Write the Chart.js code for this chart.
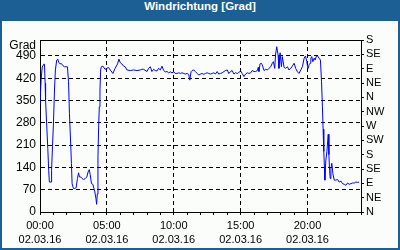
<!DOCTYPE html>
<html>
<head>
<meta charset="utf-8">
<script src="https://cdn.jsdelivr.net/npm/chart.js@4.4.1/dist/chart.umd.min.js"></script>
<style>
  html, body { margin: 0; padding: 0; background: #ffffff; }
  #frame {
    position: relative;
    width: 400px;
    height: 250px;
    background: #1c5f94;
    overflow: hidden;
  }
  #title {
    position: absolute;
    left: 0; top: 0;
    width: 400px;
    height: 21px;
    line-height: 21px;
    text-align: center;
    color: #ffffff;
    font: bold 11.5px "Liberation Sans", Arial, sans-serif;
  }
  #inner {
    position: absolute;
    left: 2px; top: 21px;
    width: 396px;
    height: 227px;
    background: #fafdfa;
  }
  canvas { display: block; }
</style>
</head>
<body>
<div id="frame">
  <div id="title">Windrichtung [Grad]</div>
  <div id="inner"><canvas id="chart" width="396" height="227"></canvas></div>
</div>
<script>
// minutes since 00:00 on 02.03.16
const times = [
  0, 5, 10, 17, 20, 23, 25, 30, 35, 39, 42, 50, 52, 56, 60, 65, 69, 75, 80, 84,
  90, 96, 102, 110, 117, 123, 128, 132, 137, 141, 144, 150, 156, 162, 168, 173, 177, 183, 189, 195,
  203, 210, 216, 221, 225, 231, 237, 242, 246, 251, 254, 257, 260, 263, 266, 269, 272, 275,
  282, 292, 300, 307, 315, 327, 337, 348, 354, 360, 367, 375, 382, 390, 405, 420, 435, 450, 457, 465,
  480, 487, 495, 502, 510, 517, 525, 532, 540, 547, 555, 562, 570, 577, 585, 592, 600, 607, 615, 622,
  630, 637, 645, 652, 660, 667, 672, 678, 682, 690, 697, 705, 712, 720, 727, 735, 742, 750, 757, 765,
  772, 780, 787, 795, 802, 810, 817, 825, 832, 840, 847, 855, 862, 870, 877, 885, 892, 900, 907, 915,
  922, 930, 937, 945, 952, 960, 967, 975, 979, 982, 987, 993, 997, 1005, 1012, 1020, 1027, 1035, 1042, 1047,
  1053, 1057, 1062, 1068, 1072, 1077, 1083, 1087, 1095, 1102, 1110, 1117, 1125, 1132, 1140, 1147, 1155, 1162, 1170, 1177,
  1185, 1191, 1197, 1200, 1203, 1207, 1212, 1215, 1219, 1224, 1230, 1234, 1239, 1245, 1252, 1258, 1263, 1267, 1270, 1273,
  1276, 1278, 1282, 1287, 1293, 1296, 1299, 1302, 1305, 1309, 1314, 1320, 1327, 1335, 1342, 1350, 1357, 1365, 1372, 1380,
  1387, 1395, 1402, 1410, 1417, 1425, 1432
];
// wind direction in degrees
const values = [
  340, 415, 455, 464, 464, 404, 351, 273, 199, 131, 94, 94, 131, 205, 273, 383, 446, 477, 480, 470,
  465, 466, 460, 456, 456, 456, 409, 310, 226, 152, 89, 74, 74, 76, 105, 123, 110, 110, 105, 102,
  105, 110, 126, 133, 118, 89, 87, 74, 63, 42, 24, 56, 173, 267, 330, 383, 446, 456,
  458, 448, 451, 454, 446, 435, 451, 465, 480, 469, 465, 458, 456, 446, 444, 446, 444, 446, 448, 448,
  441, 451, 456, 441, 448, 444, 443, 451, 446, 458, 444, 440, 441, 437, 440, 437, 440, 435, 435, 437,
  435, 437, 435, 433, 435, 432, 414, 441, 444, 446, 441, 435, 430, 433, 435, 432, 435, 437, 435, 433,
  435, 437, 433, 441, 433, 435, 437, 441, 444, 446, 435, 441, 444, 433, 437, 435, 438, 443, 435, 425,
  433, 437, 435, 437, 444, 441, 441, 444, 454, 441, 465, 467, 462, 444, 448, 446, 451, 456, 467, 472,
  451, 496, 519, 493, 451, 500, 456, 488, 454, 451, 456, 446, 451, 458, 467, 451, 440, 435, 446, 456,
  483, 490, 472, 456, 451, 462, 467, 483, 488, 472, 483, 477, 488, 490, 483, 477, 409, 330, 260, 190,
  140, 100, 160, 190, 244, 180, 130, 105, 135, 153, 120, 100, 100, 102, 94, 97, 89, 87, 84, 91,
  87, 89, 91, 91, 94, 93, 94
];

const leftTicks = [0, 70, 140, 210, 280, 350, 420, 490];
const compassTicks = [0, 45, 90, 135, 180, 225, 270, 315, 360, 405, 450, 495, 540];
const compassLabels = ['N', 'NE', 'E', 'SE', 'S', 'SW', 'W', 'NW', 'N', 'NE', 'E', 'SE', 'S'];
const hourTicks = [0, 60, 120, 180, 240, 300, 360, 420, 480, 540, 600, 660, 720, 780, 840, 900, 960, 1020, 1080, 1140, 1200, 1260, 1320, 1380, 1440];
const timeLabels = { 0: '00:00', 300: '05:00', 600: '10:00', 900: '15:00', 1200: '20:00' };
const dateLabel = '02.03.16';

const FONT = '"Liberation Sans", Arial, sans-serif';

// top edge of the box + "Grad" caption
const framePlugin = {
  id: 'framePlugin',
  afterDraw(chart) {
    const { ctx, chartArea } = chart;
    ctx.save();
    ctx.strokeStyle = '#000';
    ctx.lineWidth = 1;
    ctx.beginPath();
    const y = Math.round(chartArea.top) + 0.5;
    ctx.moveTo(chartArea.left, y);
    ctx.lineTo(chartArea.right, y);
    ctx.stroke();
    ctx.fillStyle = '#000';
    ctx.font = '12px ' + FONT;
    ctx.textAlign = 'right';
    ctx.textBaseline = 'middle';
    ctx.fillText('Grad', chartArea.left - 4, chartArea.top + 6);
    ctx.restore();
  }
};

new Chart(document.getElementById('chart'), {
  type: 'line',
  data: {
    datasets: [{
      data: times.map((t, i) => ({ x: t, y: values[i] })),
      borderColor: '#0000ff',
      borderWidth: 1,
      pointRadius: 0,
      tension: 0,
      fill: false
    }]
  },
  options: {
    responsive: false,
    animation: false,
    events: [],
    layout: { padding: { top: 19, left: 0, right: 0, bottom: 0 } },
    plugins: { legend: { display: false }, tooltip: { enabled: false } },
    scales: {
      x: {
        type: 'linear',
        min: 0,
        max: 1440,
        afterBuildTicks: (scale) => { scale.ticks = hourTicks.map(v => ({ value: v })); },
        afterFit: (scale) => { scale.height = 36; },
        grid: {
          color: (c) => (c.tick && c.tick.value % 300 === 0 && c.tick.value > 0 && c.tick.value < 1440) ? '#000' : 'rgba(0,0,0,0)',
          tickColor: '#000',
          tickLength: 3,
          lineWidth: 1
        },
        border: { display: true, color: '#000', dash: [4, 3] },
        ticks: {
          autoSkip: false,
          maxRotation: 0,
          padding: 3,
          color: '#000',
          font: { family: FONT, size: 11, lineHeight: 1.36 },
          callback: (v) => timeLabels[v] ? [timeLabels[v], dateLabel] : ''
        }
      },
      y: {
        position: 'left',
        min: 0,
        max: 540,
        afterBuildTicks: (scale) => { scale.ticks = leftTicks.map(v => ({ value: v })); },
        afterFit: (scale) => { scale.width = 38; },
        grid: { color: '#000', drawTicks: false, lineWidth: 1 },
        border: { display: true, color: '#000', dash: [4, 3] },
        ticks: { autoSkip: false, padding: 4, color: '#000', font: { family: FONT, size: 12 } }
      },
      y2: {
        position: 'right',
        min: 0,
        max: 540,
        afterBuildTicks: (scale) => { scale.ticks = compassTicks.map(v => ({ value: v })); },
        afterFit: (scale) => { scale.width = 37; },
        grid: { drawOnChartArea: false, color: '#000', tickColor: '#000', tickLength: 3 },
        border: { display: true, color: '#000' },
        ticks: {
          autoSkip: false,
          padding: 2,
          color: '#000',
          font: { family: FONT, size: 11, lineHeight: 1 },
          callback: (v) => compassLabels[compassTicks.indexOf(v)]
        }
      }
    }
  },
  plugins: [framePlugin]
});
</script>
</body>
</html>
